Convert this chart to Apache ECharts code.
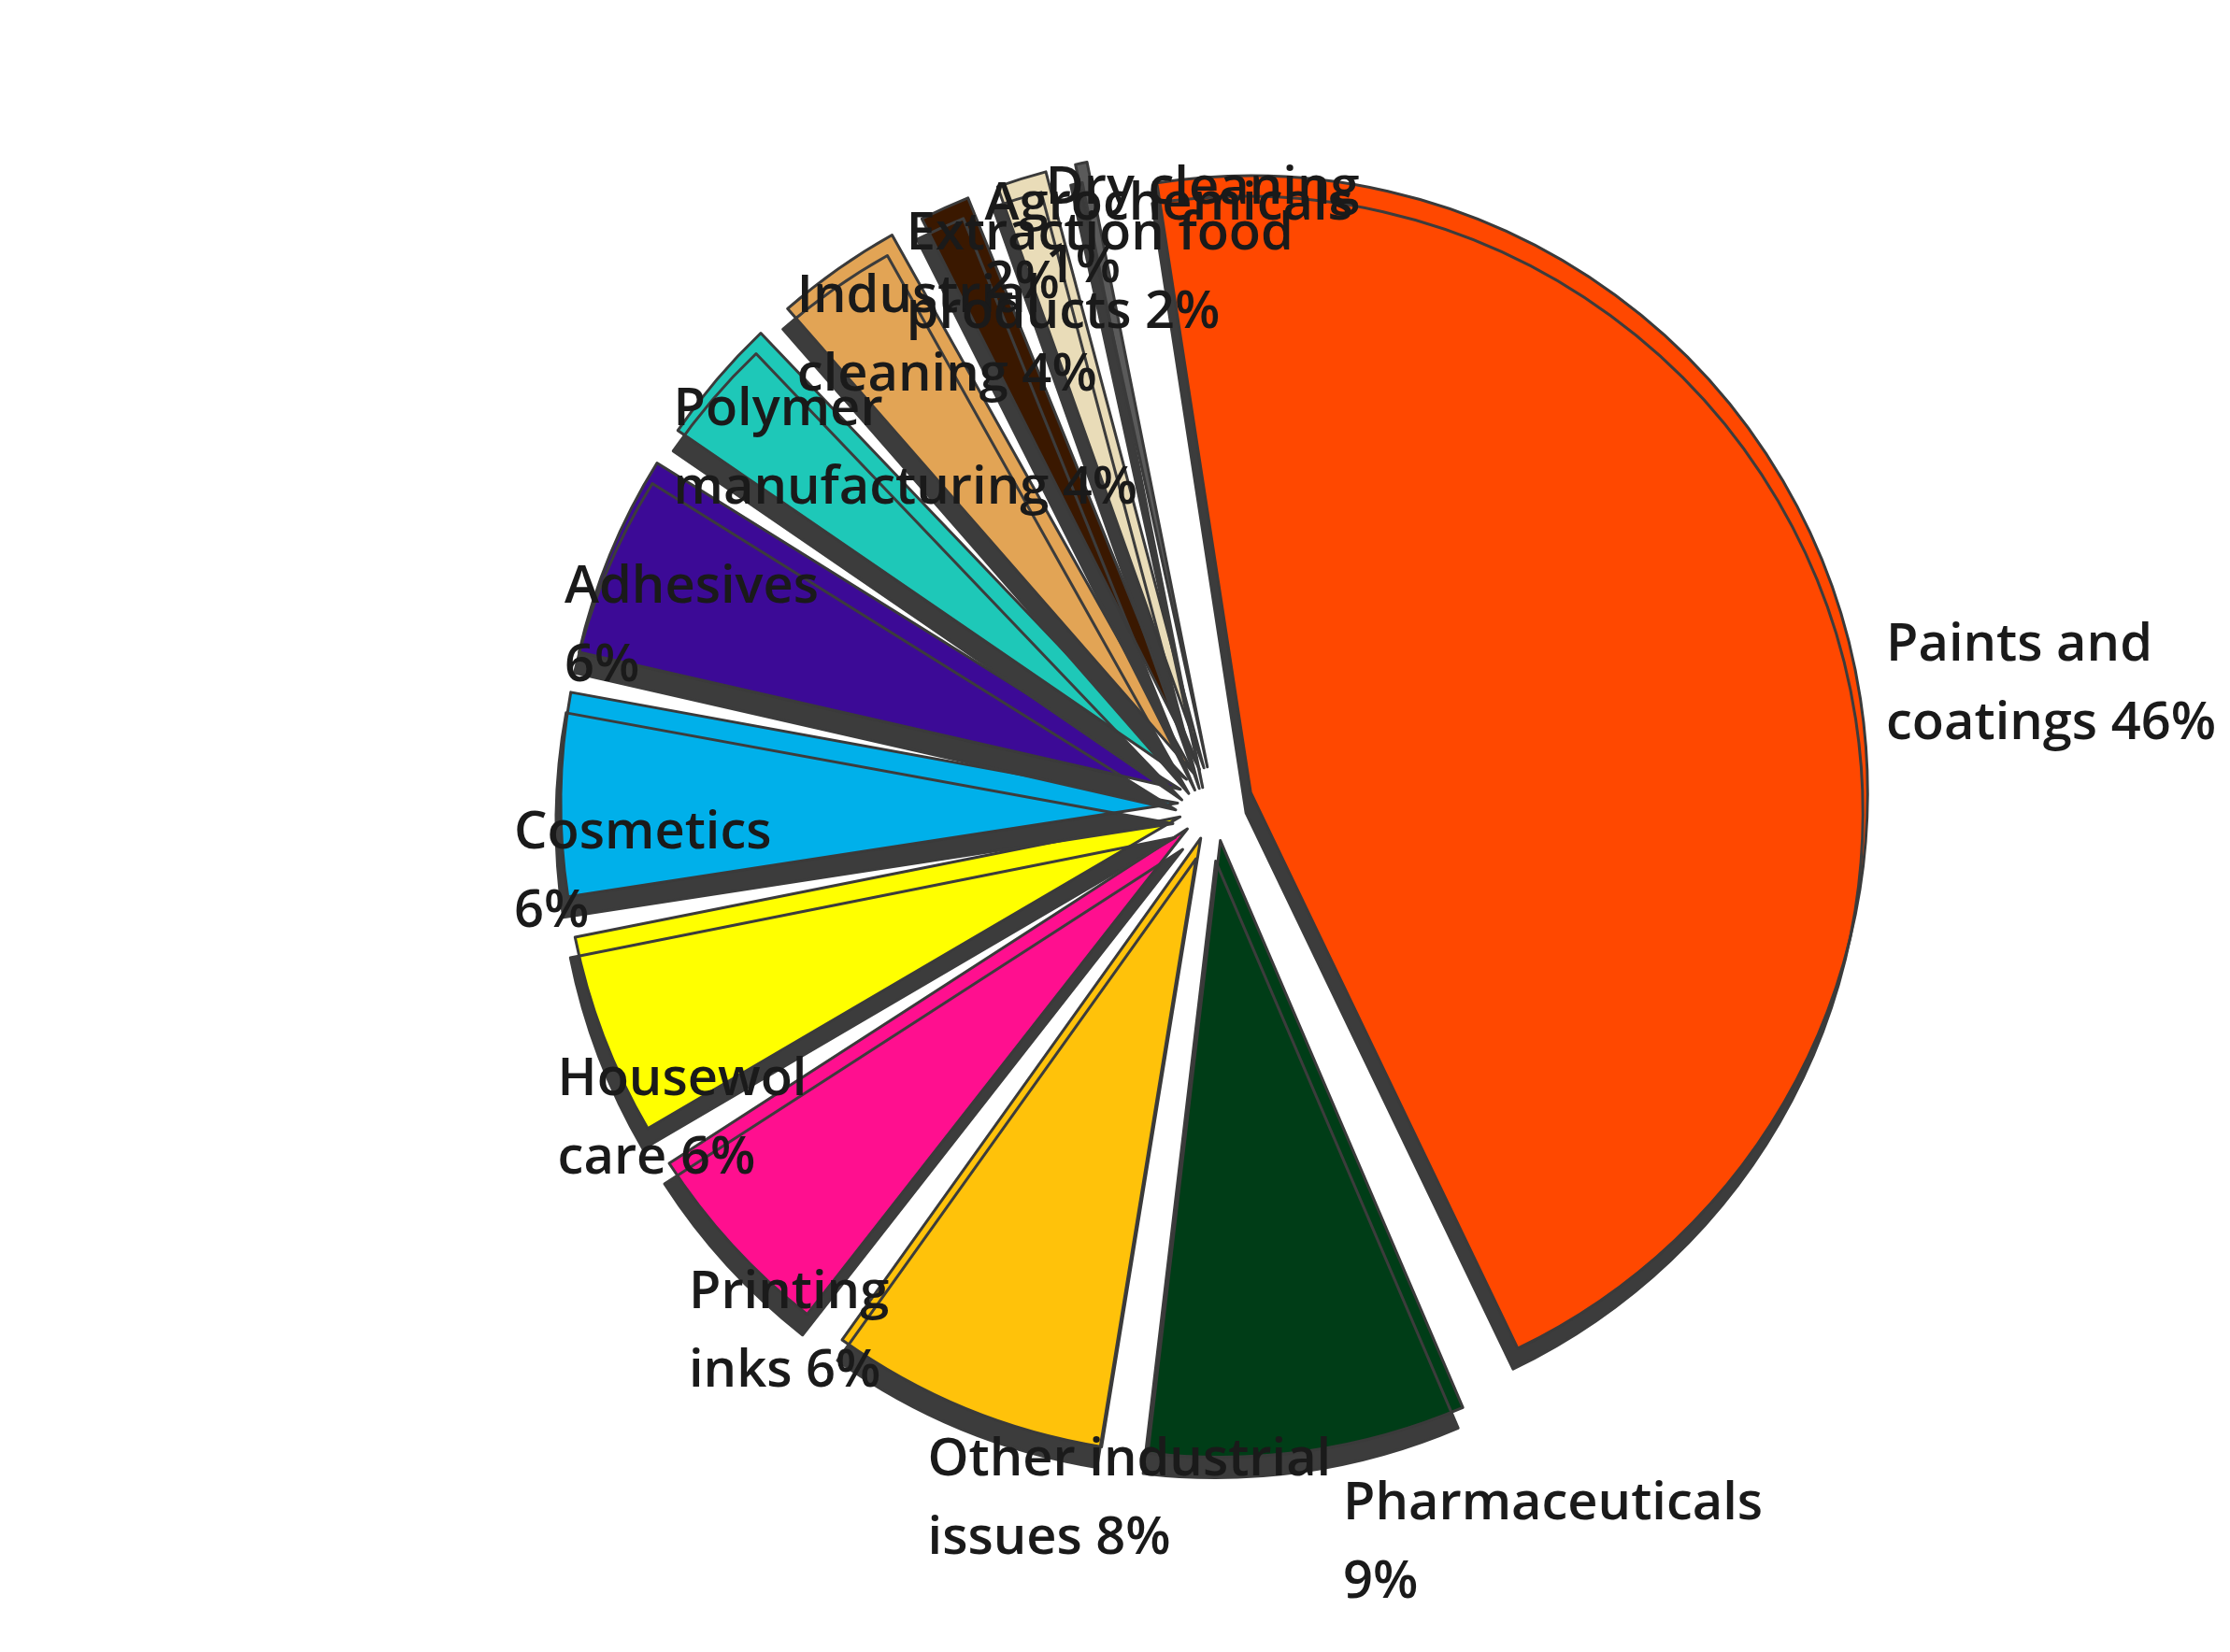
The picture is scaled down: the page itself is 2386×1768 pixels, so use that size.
<!DOCTYPE html>
<html><head><meta charset="utf-8">
<script src="https://cdn.jsdelivr.net/npm/echarts@6/dist/echarts.min.js"></script>
<style>html,body{margin:0;background:#fff}#c{width:2386px;height:1768px}</style>
</head><body><div id="c"></div>
<script>
const categories = ["Paints and\ncoatings 46%","Pharmaceuticals\n9%","Other industrial\nissues 8%","Printing\ninks 6%","Housewol\ncare 6%","Cosmetics\n6%","Adhesives\n6%","Polymer\nmanufacturing 4%","Industrial\ncleaning 4%","Extraction food\nproducts 2%","Agrochemicals\n2%","Dry cleaning\n1%"];
const values = [46,9,8,6,6,6,6,4,4,2,2,1];
const colors = ["#ff4800","#003d17","#ffc20a","#ff0f8f","#ffff00","#00b0ea","#3c0a96","#1ec8b8","#e2a455","#3a1800","#e9dcb8","#5a5a5a"];
// label anchor (left, first-line centre) in page pixels
const labelAnchors = [[1971,353],[1837,1430],[1275,1636],[887,1583],[545,1431],[274,1138],[253,864],[15,616],[327,411],[441,243],[890,50],[1129,152]];
const chart = echarts.init(document.getElementById('c'));
chart.setOption({
  series:[{
    type:'pie', center:[1300,860], radius:[0,660], startAngle:100, clockwise:true, padAngle:2.5,
    selectedMode:'multiple', selectedOffset:40, avoidLabelOverlap:false,
    data: values.map((v,i)=>({value:v,name:categories[i],selected:true,itemStyle:{color:colors[i]}})),
    itemStyle:{borderColor:'#3a3a3a',borderWidth:3,shadowColor:'rgba(60,60,60,1)',shadowOffsetX:-5,shadowOffsetY:22,shadowBlur:0},
    label:{show:true,position:'outside',formatter:'{b}',color:'#1a1a1a',fontFamily:'Open Sans',fontWeight:600,fontSize:56,lineHeight:84},
    labelLine:{show:false},
    labelLayout:function(p){const a=labelAnchors[p.dataIndex];return {x:a[0],y:a[1]-42,align:'left',verticalAlign:'top',hideOverlap:false,moveOverlap:null};}
  }]
});
</script></body></html>
